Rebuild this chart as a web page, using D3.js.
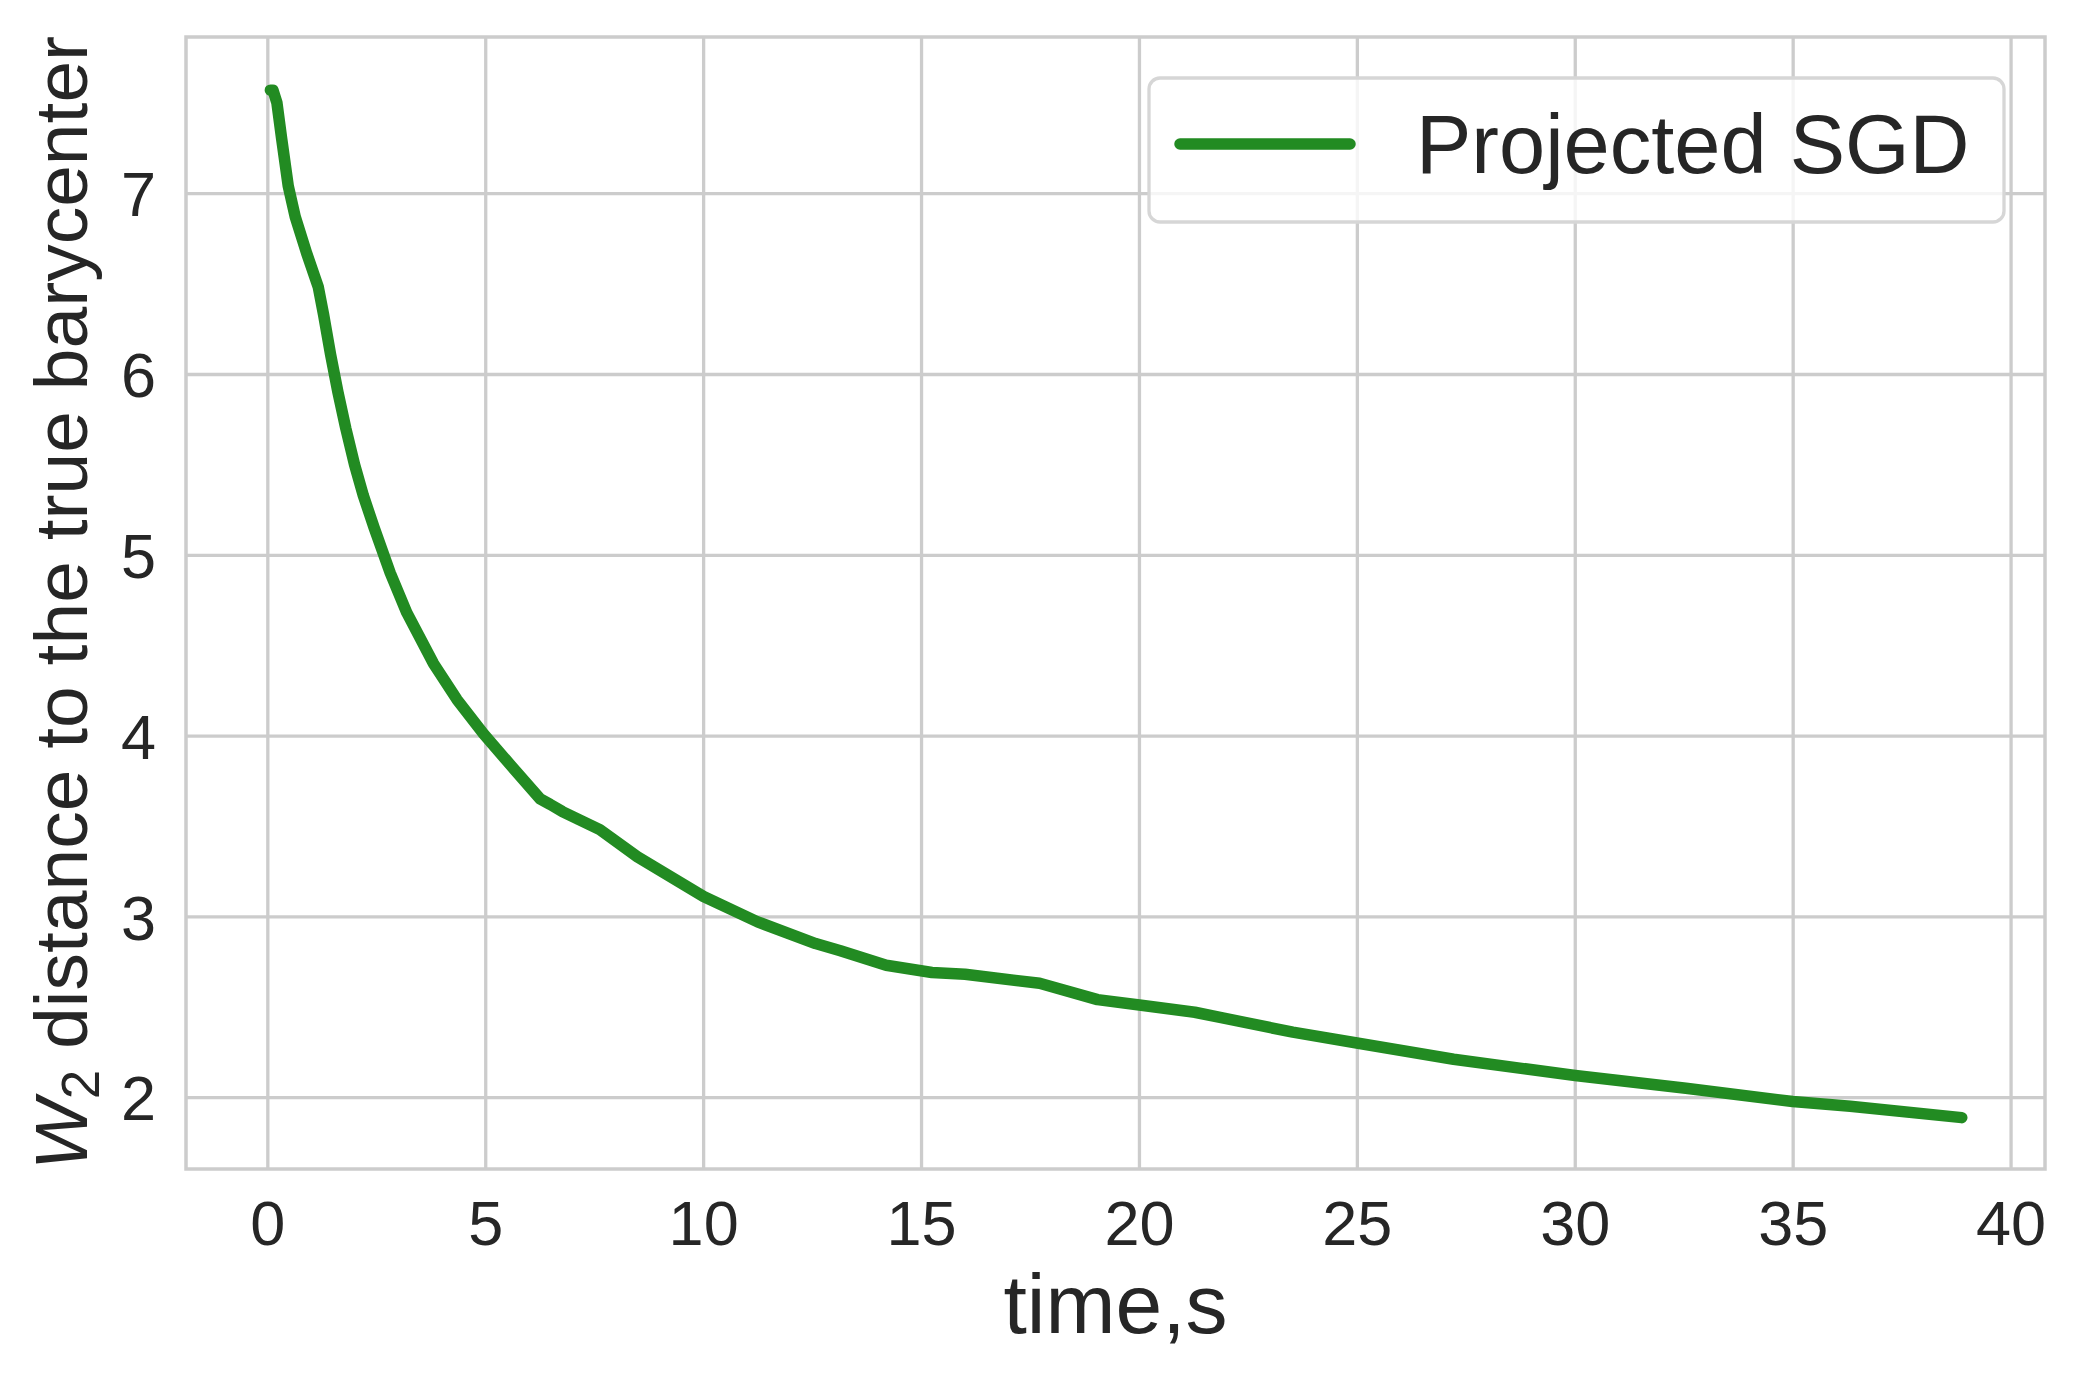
<!DOCTYPE html>
<html>
<head>
<meta charset="utf-8">
<script src="https://cdn.jsdelivr.net/npm/d3@7"></script>
<style>
  body { margin: 0; background: #fff; }
  text { font-family: "Liberation Sans", Arial, sans-serif; fill: #262626; }
</style>
</head>
<body>
<svg id="chart" width="2075" height="1377"></svg>
<script>
// values
const timeSec = [0.07, 0.13, 0.22, 0.33, 0.48, 0.64, 0.90, 1.17, 1.29, 1.45, 1.62, 1.80, 2.00, 2.20, 2.45,
  2.82, 3.20, 3.81, 4.35, 4.96, 5.57, 6.26, 6.49, 6.77, 7.63, 8.49, 10.01, 11.25, 12.58, 13.15, 14.20,
  15.25, 16.01, 17.72, 19.05, 20.01, 21.28, 21.89, 23.53, 25.0, 27.22, 30.01, 32.55, 35.0, 36.32, 38.88];
const w2Distance = [7.57, 7.57, 7.50, 7.30, 7.04, 6.87, 6.67, 6.48, 6.33, 6.11, 5.90, 5.70, 5.50, 5.33, 5.15,
  4.90, 4.68, 4.40, 4.20, 4.01, 3.84, 3.65, 3.62, 3.58, 3.48, 3.33, 3.11, 2.97, 2.85, 2.81, 2.73,
  2.69, 2.68, 2.63, 2.54, 2.51, 2.47, 2.44, 2.36, 2.30, 2.21, 2.12, 2.05, 1.976, 1.95, 1.887];
const xTicks = [0, 5, 10, 15, 20, 25, 30, 35, 40];
const yTicks = [2, 3, 4, 5, 6, 7];
const seriesName = 'Projected SGD';

const svg = d3.select('#chart');
const plotL = 186, plotR = 2045, plotT = 37, plotB = 1169;
const grey = '#cccccc';
const green = '#228b22';

const x = d3.scaleLinear().domain([-1.866, 40.79]).range([plotL, plotR]);
const y = d3.scaleLinear().domain([1.603, 7.864]).range([plotB, plotT]);

// grid + tick labels
const gx = svg.append('g').attr('transform', `translate(0,${plotB})`)
    .call(d3.axisBottom(x).tickValues(xTicks).tickSize(-(plotB - plotT)).tickFormat(d3.format('d')));
gx.select('.domain').remove();
gx.selectAll('line').attr('stroke', grey).attr('stroke-width', 3.3);
gx.selectAll('text').attr('y', 76).attr('dy', 0).attr('font-size', 63)
    .attr('font-family', '"Liberation Sans", Arial, sans-serif').style('fill', '#262626');

const gy = svg.append('g').attr('transform', `translate(${plotL},0)`)
    .call(d3.axisLeft(y).tickValues(yTicks).tickSize(-(plotR - plotL)).tickFormat(d3.format('d')));
gy.select('.domain').remove();
gy.selectAll('line').attr('stroke', grey).attr('stroke-width', 3.3);
gy.selectAll('text').attr('x', -30).attr('dy', '0.36em').attr('font-size', 63)
    .attr('font-family', '"Liberation Sans", Arial, sans-serif').style('fill', '#262626');

svg.append('rect')
    .attr('x', plotL).attr('y', plotT).attr('width', plotR - plotL).attr('height', plotB - plotT)
    .attr('fill', 'none').attr('stroke', grey).attr('stroke-width', 3.5);

// the curve
const points = timeSec.map((t, i) => [t, w2Distance[i]]);
svg.append('path')
    .datum(points)
    .attr('fill', 'none')
    .attr('stroke', green)
    .attr('stroke-width', 11.5)
    .attr('stroke-linecap', 'round')
    .attr('stroke-linejoin', 'round')
    .attr('d', d3.line().x(d => x(d[0])).y(d => y(d[1])));

// axis labels
svg.append('text')
    .attr('x', (plotL + plotR) / 2).attr('y', 1333)
    .attr('text-anchor', 'middle').attr('font-size', 84)
    .text('time,s');

const yl = svg.append('text')
    .attr('transform', `translate(87,${(plotT + plotB) / 2}) rotate(-90)`)
    .attr('text-anchor', 'middle').attr('font-size', 75);
yl.append('tspan').attr('font-style', 'italic').text('W');
yl.append('tspan').attr('font-size', 53).attr('dy', 12).text('2');
yl.append('tspan').attr('dy', -12).text(' distance to the true barycenter');

// legend
const lg = svg.append('g');
lg.append('rect')
    .attr('x', 1149).attr('y', 78).attr('width', 855).attr('height', 144)
    .attr('rx', 11)
    .attr('fill', 'rgba(255,255,255,0.8)')
    .attr('stroke', '#d6d6d6').attr('stroke-width', 3.3);
lg.append('line')
    .attr('x1', 1180).attr('x2', 1350).attr('y1', 144).attr('y2', 144)
    .attr('stroke', green).attr('stroke-width', 11.5).attr('stroke-linecap', 'round');
lg.append('text')
    .attr('x', 1416).attr('y', 173)
    .attr('font-size', 83)
    .text(seriesName);
</script>
</body>
</html>
